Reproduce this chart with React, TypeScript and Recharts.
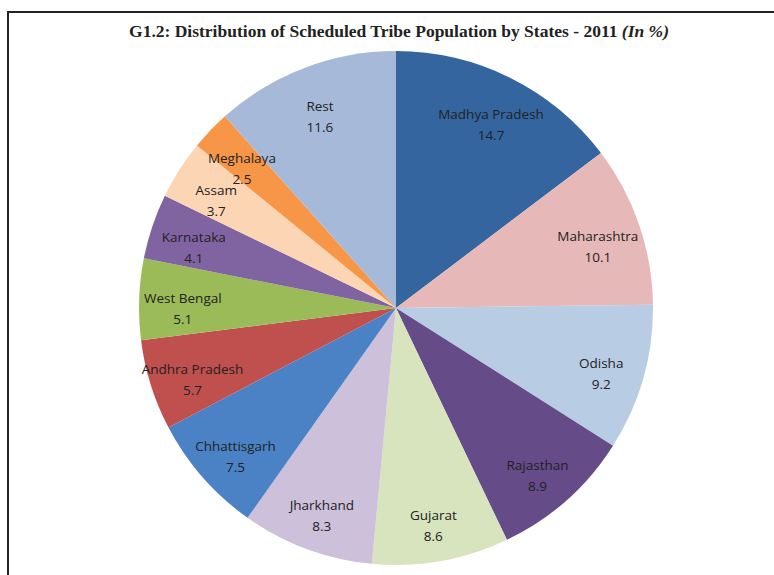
import React from "react";
import { PieChart, Pie, Cell } from "recharts";

const states = [
  "Madhya Pradesh",
  "Maharashtra",
  "Odisha",
  "Rajasthan",
  "Gujarat",
  "Jharkhand",
  "Chhattisgarh",
  "Andhra Pradesh",
  "West Bengal",
  "Karnataka",
  "Assam",
  "Meghalaya",
  "Rest",
];
const shares = [14.7, 10.1, 9.2, 8.9, 8.6, 8.3, 7.5, 5.7, 5.1, 4.1, 3.7, 2.5, 11.6];
const colors = [
  "#34659F",
  "#E6B9B8",
  "#B8CCE4",
  "#654B88",
  "#D7E4BD",
  "#CCC0DA",
  "#4A82C5",
  "#C0504D",
  "#9BBB59",
  "#8064A2",
  "#FCD5B5",
  "#F79646",
  "#A6B9D9",
];

const data = states.map((name, i) => ({ name, value: shares[i] }));

const RADIAN = Math.PI / 180;

const renderLabel = (props: any) => {
  const { cx, cy, midAngle, outerRadius, name, value } = props;
  const r = outerRadius * 0.83;
  const x = cx + r * Math.cos(-midAngle * RADIAN);
  const y = cy + r * Math.sin(-midAngle * RADIAN);
  return (
    <text
      x={x}
      y={y}
      textAnchor="middle"
      fill="#222"
      fontFamily="'Open Sans', 'Noto Sans', sans-serif"
      fontSize={13.5}
    >
      <tspan x={x} dy={2}>
        {name}
      </tspan>
      <tspan x={x} dy={21}>
        {value.toFixed(1)}
      </tspan>
    </text>
  );
};

export default function App() {
  return (
    <div
      style={{
        position: "absolute",
        left: 0,
        top: 0,
        width: 774,
        height: 575,
        overflow: "hidden",
        background: "#fff",
      }}
    >
      <div
        style={{
          position: "absolute",
          left: 7,
          top: 11,
          width: 800,
          height: 600,
          border: "2px solid #222",
          boxSizing: "border-box",
        }}
      />
      <div
        style={{
          position: "absolute",
          left: 0,
          top: 21,
          width: 798,
          textAlign: "center",
          fontFamily: "'Liberation Serif', 'DejaVu Serif', serif",
          fontWeight: "bold",
          fontSize: 17.5,
          color: "#222",
          whiteSpace: "nowrap",
        }}
      >
        G1.2: Distribution of Scheduled Tribe Population by States - 2011{" "}
        <i>(In %)</i>
      </div>
      <div style={{ position: "absolute", left: 0, top: 0 }}>
        <PieChart width={774} height={575} margin={{ top: 0, right: 0, bottom: 0, left: 0 }}>
          <Pie
            data={data}
            dataKey="value"
            nameKey="name"
            cx={396}
            cy={308}
            outerRadius={257}
            startAngle={90}
            endAngle={-270}
            stroke="none"
            label={renderLabel}
            labelLine={false}
            isAnimationActive={false}
          >
            {data.map((d, i) => (
              <Cell key={d.name} fill={colors[i]} />
            ))}
          </Pie>
        </PieChart>
      </div>
    </div>
  );
}
